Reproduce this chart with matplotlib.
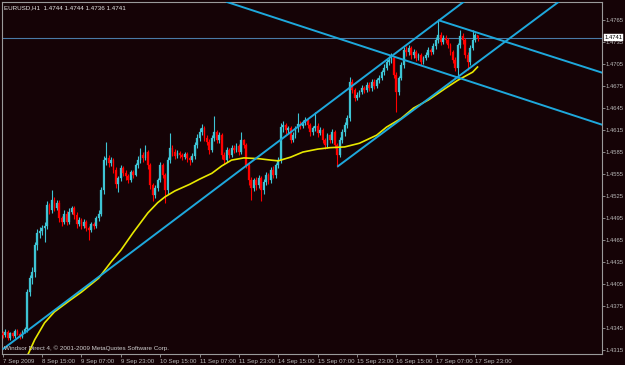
import matplotlib
matplotlib.use('Agg')
import matplotlib.pyplot as plt
import matplotlib.transforms as mtransforms

# ---------------- data (EURUSD H1) ----------------
first_open = 1.4338
closes = [1.4335,1.4340,1.4331,1.4338,1.4334,1.4341,1.4337,1.4333,1.4340,1.4344,
          1.4394,1.4413,1.4421,1.4458,1.4475,1.4477,1.4481,1.4484,1.4513,1.4506,
          1.4520,1.4509,1.4516,1.4495,1.4490,1.4501,1.4490,1.4503,1.4509,1.4499,
          1.4487,1.4492,1.4484,1.4490,1.4481,1.4479,1.4487,1.4484,1.4495,1.4501,
          1.4533,1.4574,1.4577,1.4570,1.4574,1.4561,1.4541,1.4550,1.4563,1.4556,
          1.4552,1.4547,1.4558,1.4554,1.4567,1.4574,1.4581,1.4577,1.4585,1.4567,
          1.4540,1.4526,1.4536,1.4547,1.4567,1.4554,1.4533,1.4574,1.4591,1.4585,
          1.4580,1.4584,1.4581,1.4578,1.4582,1.4577,1.4574,1.4580,1.4595,1.4604,
          1.4612,1.4618,1.4604,1.4599,1.4588,1.4604,1.4612,1.4601,1.4608,1.4581,
          1.4574,1.4588,1.4581,1.4591,1.4588,1.4593,1.4585,1.4601,1.4595,1.4567,
          1.4547,1.4536,1.4547,1.4540,1.4550,1.4533,1.4544,1.4554,1.4547,1.4561,
          1.4554,1.4567,1.4574,1.4619,1.4622,1.4615,1.4618,1.4601,1.4608,1.4618,
          1.4623,1.4621,1.4626,1.4629,1.4622,1.4612,1.4618,1.4621,1.4611,1.4615,
          1.4601,1.4595,1.4608,1.4601,1.4612,1.4595,1.4581,1.4601,1.4612,1.4622,
          1.4631,1.4681,1.4670,1.4659,1.4663,1.4667,1.4672,1.4670,1.4677,1.4672,
          1.4681,1.4675,1.4683,1.4686,1.4694,1.4700,1.4708,1.4711,1.4713,1.4690,
          1.4667,1.4686,1.4704,1.4724,1.4721,1.4727,1.4717,1.4721,1.4713,1.4717,
          1.4708,1.4713,1.4717,1.4724,1.4721,1.4730,1.4738,1.4745,1.4735,1.4741,
          1.4738,1.4731,1.4721,1.4711,1.4700,1.4731,1.4743,1.4738,1.4717,1.4708,
          1.4727,1.4738,1.4744,1.4741]
highs = [1.4341,1.4343,1.4342,1.4340,1.4340,1.4344,1.4343,1.4339,1.4342,1.4347,
         1.4398,1.4417,1.4428,1.4462,1.4480,1.4483,1.4486,1.4490,1.4518,1.4516,
         1.4533,1.4524,1.4520,1.4519,1.4498,1.4506,1.4504,1.4508,1.4512,1.4511,
         1.4503,1.4496,1.4495,1.4493,1.4492,1.4484,1.4490,1.4489,1.4498,1.4506,
         1.4537,1.4580,1.4599,1.4581,1.4578,1.4577,1.4565,1.4553,1.4568,1.4566,
         1.4560,1.4555,1.4561,1.4560,1.4570,1.4579,1.4590,1.4585,1.4595,1.4588,
         1.4570,1.4543,1.4540,1.4550,1.4572,1.4570,1.4557,1.4578,1.4611,1.4595,
         1.4589,1.4588,1.4586,1.4584,1.4585,1.4585,1.4580,1.4584,1.4599,1.4609,
         1.4618,1.4623,1.4621,1.4608,1.4603,1.4608,1.4634,1.4615,1.4612,1.4611,
         1.4585,1.4592,1.4590,1.4594,1.4594,1.4597,1.4596,1.4612,1.4603,1.4598,
         1.4570,1.4551,1.4550,1.4551,1.4554,1.4553,1.4548,1.4558,1.4557,1.4565,
         1.4566,1.4570,1.4578,1.4624,1.4628,1.4625,1.4621,1.4620,1.4612,1.4621,
         1.4638,1.4627,1.4629,1.4633,1.4632,1.4625,1.4621,1.4640,1.4624,1.4619,
         1.4618,1.4604,1.4611,1.4610,1.4616,1.4615,1.4598,1.4605,1.4616,1.4626,
         1.4636,1.4688,1.4684,1.4673,1.4667,1.4670,1.4676,1.4675,1.4681,1.4680,
         1.4684,1.4685,1.4686,1.4690,1.4697,1.4705,1.4712,1.4716,1.4720,1.4716,
         1.4694,1.4689,1.4708,1.4728,1.4729,1.4731,1.4730,1.4725,1.4724,1.4720,
         1.4720,1.4716,1.4721,1.4728,1.4727,1.4734,1.4742,1.4765,1.4749,1.4745,
         1.4745,1.4741,1.4734,1.4724,1.4714,1.4734,1.4751,1.4747,1.4741,1.4721,
         1.4731,1.4751,1.4748,1.4744]
lows = [1.4331,1.4333,1.4328,1.4329,1.4331,1.4332,1.4335,1.4330,1.4331,1.4338,
        1.4340,1.4388,1.4405,1.4415,1.4452,1.4468,1.4472,1.4462,1.4480,1.4500,
        1.4502,1.4504,1.4506,1.4490,1.4484,1.4487,1.4485,1.4487,1.4500,1.4494,
        1.4482,1.4484,1.4480,1.4481,1.4477,1.4465,1.4476,1.4480,1.4482,1.4491,
        1.4498,1.4528,1.4568,1.4564,1.4566,1.4556,1.4536,1.4530,1.4546,1.4552,
        1.4547,1.4543,1.4544,1.4549,1.4552,1.4563,1.4570,1.4572,1.4574,1.4562,
        1.4535,1.4518,1.4522,1.4532,1.4544,1.4549,1.4515,1.4528,1.4570,1.4580,
        1.4576,1.4577,1.4577,1.4574,1.4575,1.4572,1.4568,1.4571,1.4576,1.4590,
        1.4600,1.4608,1.4600,1.4595,1.4583,1.4585,1.4600,1.4597,1.4598,1.4576,
        1.4569,1.4571,1.4577,1.4578,1.4584,1.4585,1.4581,1.4582,1.4590,1.4563,
        1.4540,1.4520,1.4532,1.4533,1.4536,1.4518,1.4528,1.4540,1.4542,1.4543,
        1.4549,1.4550,1.4563,1.4570,1.4612,1.4610,1.4611,1.4597,1.4599,1.4604,
        1.4613,1.4617,1.4618,1.4622,1.4618,1.4607,1.4608,1.4614,1.4606,1.4608,
        1.4597,1.4589,1.4591,1.4597,1.4598,1.4590,1.4565,1.4578,1.4597,1.4607,
        1.4618,1.4627,1.4666,1.4655,1.4656,1.4660,1.4664,1.4666,1.4667,1.4668,
        1.4668,1.4671,1.4672,1.4679,1.4683,1.4690,1.4697,1.4704,1.4707,1.4686,
        1.4640,1.4663,1.4683,1.4700,1.4716,1.4718,1.4712,1.4713,1.4709,1.4710,
        1.4704,1.4705,1.4710,1.4714,1.4717,1.4719,1.4726,1.4734,1.4731,1.4732,
        1.4734,1.4727,1.4717,1.4706,1.4696,1.4687,1.4727,1.4733,1.4713,1.4697,
        1.4704,1.4724,1.4735,1.4736]

# moving average (yellow) read at bar positions
ma_bar = [10,13,17,21,27,32,39,44,48,53,59,63,66,70,76,80,85,89,93,98,104,109,112,
          117,122,128,133,139,145,152,156,162,167,173,180,185,191,193]
ma_val = [1.4307,1.4329,1.4352,1.4367,1.4382,1.4394,1.4413,1.4435,1.4451,1.4475,
          1.4502,1.4516,1.4524,1.4532,1.4541,1.4548,1.4556,1.4566,1.4574,1.4577,
          1.4576,1.4574,1.4573,1.4578,1.4585,1.4589,1.4591,1.4592,1.4597,1.4608,
          1.4619,1.4631,1.4645,1.4656,1.4672,1.4683,1.4694,1.4701]

# trend lines: two (bar, price) anchors each
trend_up = [(0, 1.4316), (187, 1.4789)]
channel_low = [(136, 1.4565), (162, 1.4630)]
down_upper = [(177, 1.4765), (243.9, 1.4693)]
down_lower = [(92.7, 1.4788), (243.9, 1.4622)]
bid = 1.4741

price_ticks = ['1.4315','1.4345','1.4375','1.4405','1.4435','1.4465','1.4495','1.4525',
               '1.4555','1.4585','1.4615','1.4645','1.4675','1.4705','1.4735','1.4765']
date_tick_bars = [0,16,32,48,64,80,96,112,128,144,160,176,192]
date_labels = ['7 Sep 2009','8 Sep 15:00','9 Sep 07:00','9 Sep 23:00','10 Sep 15:00',
               '11 Sep 07:00','11 Sep 23:00','14 Sep 15:00','15 Sep 07:00','15 Sep 23:00',
               '16 Sep 15:00','17 Sep 07:00','17 Sep 23:00']

header = 'EURUSD,H1  1.4744 1.4744 1.4736 1.4741'
footer = 'Windsor Direct 4, \u00a9 2001-2009 MetaQuotes Software Corp.'

# ---------------- drawing ----------------
W, H = 625, 365
bg = '#150306'
bull = '#3ec4d4'
bear = '#ff0000'
line_c = '#1ea8dc'
grey = '#b8b8b8'
font = 'Liberation Sans'

fig = plt.figure(figsize=(W/100, H/100), dpi=100)
fig.patch.set_facecolor(bg)
ax = fig.add_axes([2/W, 11/H, 600/W, 352/H])
ax.set_facecolor(bg)
ax.set_xlim(-0.3, 243.6)
ax.set_ylim(1.43095, 1.47897)

opens = [first_open] + closes[:-1]
for i, (o, h, l, c) in enumerate(zip(opens, highs, lows, closes)):
    col = bull if c >= o else bear
    ax.vlines(i, l, h, color=col, lw=0.8, zorder=3)
    lo, hi = min(o, c), max(o, c)
    if hi - lo < 0.00005:
        hi = lo + 0.00005
    ax.bar(i, hi - lo, bottom=lo, width=0.72, color=col, edgecolor=col,
           linewidth=0.2, zorder=3)

ax.plot(ma_bar, ma_val, color='#e8e800', lw=1.2, zorder=4)

def ray(p1, p2, x_end=260):
    (x1, y1), (x2, y2) = p1, p2
    s = (y2 - y1) / (x2 - x1)
    ax.plot([x1, x_end], [y1, y1 + s * (x_end - x1)], color=line_c, lw=1.4,
            zorder=5, solid_capstyle='butt')

ray(*trend_up)
ray(*channel_low)
ray(*down_upper)
ax.axline(down_lower[0], down_lower[1], color=line_c, lw=1.4, zorder=5)
ax.axhline(bid, color='#4a7aa6', lw=0.8, zorder=2)

for sp in ax.spines.values():
    sp.set_color('#9a9a9a')
    sp.set_linewidth(0.8)

ax.yaxis.tick_right()
ax.set_yticks([float(t) for t in price_ticks])
ax.set_yticklabels(price_ticks)
ax.set_xticks(date_tick_bars)
ax.set_xticklabels(date_labels)
ax.tick_params(axis='y', colors='#9a9a9a', labelcolor=grey, length=1.8, width=0.6,
               pad=1.0, labelsize=4.2)
ax.tick_params(axis='x', colors='#9a9a9a', labelcolor=grey, length=2.5, width=0.6,
               pad=0.8, labelsize=4.4)
for t in ax.get_xticklabels():
    t.set_ha('left')
    t.set_fontfamily(font)
for t in ax.get_yticklabels():
    t.set_fontfamily(font)

trans = mtransforms.blended_transform_factory(ax.transAxes, ax.transData)
ax.text(1.004, bid, '1.4741', transform=trans, ha='left', va='center', fontsize=4.2,
        family=font, color='black', zorder=10,
        bbox=dict(boxstyle='square,pad=0.15', fc='white', ec='white', lw=0.3))

fig.text(4/W, 1 - 5/H, header, ha='left', va='top', fontsize=4.5, family=font,
         color='#e6e6e6')
fig.text(4/W, 1 - 351/H, footer, ha='left', va='bottom', fontsize=4.5, family=font,
         color='#d0d0d0')

fig.savefig('out.png', dpi=100, facecolor=bg)
